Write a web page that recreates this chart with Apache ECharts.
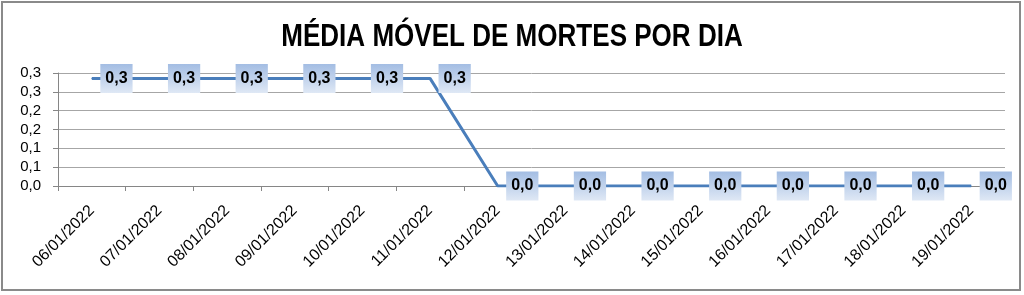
<!DOCTYPE html>
<html>
<head>
<meta charset="utf-8">
<script src="https://cdn.jsdelivr.net/npm/echarts@6/dist/echarts.min.js"></script>
<style>
html,body{margin:0;padding:0;background:#fff;}
#c{width:1024px;height:295px;}
</style>
</head>
<body>
<div id="c"></div>
<script>
const titleText = 'MÉDIA MÓVEL DE MORTES POR DIA';
const categories = ['06/01/2022','07/01/2022','08/01/2022','09/01/2022','10/01/2022','11/01/2022','12/01/2022','13/01/2022','14/01/2022','15/01/2022','16/01/2022','17/01/2022','18/01/2022','19/01/2022'];
const mediaMovel = [0.2857,0.2857,0.2857,0.2857,0.2857,0.2857,0,0,0,0,0,0,0,0];
const yTickLabels = ['0,0','0,1','0,1','0,2','0,2','0,3','0,3'];
const yStep = 0.05;

const chart = echarts.init(document.getElementById('c'), null, {renderer:'canvas'});
chart.setOption({
  animation:false,
  backgroundColor:'#fff',
  graphic:[{
    type:'rect',
    shape:{x:2,y:2,width:1018,height:288},
    style:{fill:'none',stroke:'#8a8a8a',lineWidth:2},
    silent:true
  },{
    type:'text',
    x:512, y:37,
    scaleX:0.84,
    style:{text:titleText,font:'bold 31px "Liberation Sans", sans-serif',fill:'#000',textAlign:'center',textVerticalAlign:'middle'},
    silent:true
  }],
  grid:{left:58,right:19,top:73,bottom:109,containLabel:false},
  xAxis:{
    type:'category',
    data:categories,
    boundaryGap:true,
    axisLine:{lineStyle:{color:'#868686',width:1}},
    axisTick:{show:true,length:5,lineStyle:{color:'#868686'}},
    axisLabel:{rotate:45,margin:22,fontSize:16,color:'#000',fontFamily:'"Liberation Sans",sans-serif',interval:0}
  },
  yAxis:{
    type:'value',
    min:0,max:0.3,interval:yStep,
    axisLine:{show:true,lineStyle:{color:'#868686'}},
    axisTick:{show:true,length:5,lineStyle:{color:'#868686'}},
    splitLine:{lineStyle:{color:'#a6a6a6',width:1}},
    axisLabel:{fontSize:15,color:'#000',margin:17,fontFamily:'"Liberation Sans",sans-serif',
      formatter:function(v){return yTickLabels[Math.round(v/yStep)];}}
  },
  series:[{
    type:'line',
    data:mediaMovel,
    symbol:'circle',
    symbolSize:1,
    showSymbol:true,
    lineStyle:{color:'#4a7ebb',width:3},
    itemStyle:{color:'#4a7ebb'},
    labelLayout:{hideOverlap:false},
    label:{
      show:true,
      position:'right',
      distance:8,
      fontSize:16,
      fontWeight:'bold',
      color:'#000',
      fontFamily:'"Liberation Sans",sans-serif',
      padding:[7,5,6,5],
      backgroundColor:new echarts.graphic.LinearGradient(0,0,0,1,[{offset:0,color:'#a3bde3'},{offset:1,color:'#dfe8f5'}]),
      formatter:function(p){return p.value.toFixed(1).replace('.',',');}
    }
  }]
});
</script>
</body>
</html>
